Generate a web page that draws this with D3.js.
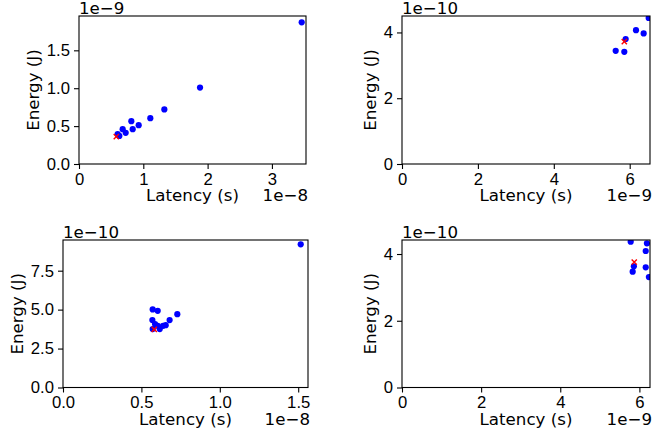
<!DOCTYPE html>
<html>
<head>
<meta charset="utf-8">
<script src="https://cdn.jsdelivr.net/npm/d3@7"></script>
<style>
body{margin:0;background:#fff;}
svg{display:block;font-family:"DejaVu Sans",sans-serif;}
</style>
</head>
<body>
<svg id="svg" width="667" height="434"></svg>
<script>
// panel 1 (top left)
var lat1=[3.463e-8,1.882e-8,1.327e-8,1.109e-8,0.928e-8,0.814e-8,0.835e-8,0.679e-8,0.726e-8,0.601e-8,0.627e-8];
var en1=[1.870e-9,1.008e-9,0.720e-9,0.605e-9,0.512e-9,0.565e-9,0.459e-9,0.459e-9,0.411e-9,0.393e-9,0.371e-9];
var lat1Red=[0.580e-8], en1Red=[0.362e-9];
// panel 2 (top right)
var lat2=[6.50e-9,6.166e-9,6.368e-9,5.894e-9,5.631e-9,5.858e-9];
var en2=[4.44e-10,4.07e-10,3.97e-10,3.80e-10,3.44e-10,3.41e-10];
var lat2Red=[5.858e-9], en2Red=[3.72e-10];
// panel 3 (bottom left)
var lat3=[1.516e-8,0.729e-8,0.572e-8,0.604e-8,0.570e-8,0.680e-8,0.587e-8,0.604e-8,0.638e-8,0.655e-8,0.572e-8,0.617e-8];
var en3=[9.19e-10,4.71e-10,5.01e-10,4.92e-10,4.33e-10,4.33e-10,4.07e-10,3.96e-10,3.96e-10,4.00e-10,3.75e-10,3.75e-10];
var lat3Red=[0.582e-8], en3Red=[3.73e-10];
// panel 4 (bottom right)
var lat4=[5.78e-9,6.19e-9,6.16e-9,5.86e-9,6.16e-9,5.83e-9,6.24e-9];
var en4=[4.37e-10,4.32e-10,4.09e-10,3.63e-10,3.60e-10,3.47e-10,3.31e-10];
var lat4Red=[5.87e-9], en4Red=[3.76e-10];

// ticks
var xTicks1=[0,1e-8,2e-8,3e-8], xLabels1=["0","1","2","3"];
var yTicks1=[0,0.5e-9,1e-9,1.5e-9], yLabels1=["0.0","0.5","1.0","1.5"];
var xTicks2=[0,2e-9,4e-9,6e-9], xLabels2=["0","2","4","6"];
var yTicks2=[0,2e-10,4e-10], yLabels2=["0","2","4"];
var xTicks3=[0,0.5e-8,1e-8,1.5e-8], xLabels3=["0.0","0.5","1.0","1.5"];
var yTicks3=[0,2.5e-10,5e-10,7.5e-10], yLabels3=["0.0","2.5","5.0","7.5"];
var xTicks4=[0,2e-9,4e-9,6e-9], xLabels4=["0","2","4","6"];
var yTicks4=[0,2e-10,4e-10], yLabels4=["0","2","4"];

var xOffset=["1e\u22128","1e\u22129","1e\u22128","1e\u22129"];
var yOffset=["1e\u22129","1e\u221210","1e\u221210","1e\u221210"];

var panels=[
  {lat:lat1,en:en1,latR:lat1Red,enR:en1Red,xd:[0,3.53e-8],yd:[0,1.953e-9],xt:xTicks1,xl:xLabels1,yt:yTicks1,yl:yLabels1,box:[79,16,306,164]},
  {lat:lat2,en:en2,latR:lat2Red,enR:en2Red,xd:[0,6.535e-9],yd:[0,4.50e-10],xt:xTicks2,xl:xLabels2,yt:yTicks2,yl:yLabels2,box:[402,16,650,164]},
  {lat:lat3,en:en3,latR:lat3Red,enR:en3Red,xd:[0,1.5625e-8],yd:[0,9.47e-10],xt:xTicks3,xl:xLabels3,yt:yTicks3,yl:yLabels3,box:[63,240,308,387.5]},
  {lat:lat4,en:en4,latR:lat4Red,enR:en4Red,xd:[0,6.268e-9],yd:[0,4.42e-10],xt:xTicks4,xl:xLabels4,yt:yTicks4,yl:yLabels4,box:[402,240,650,387.5]}
];

var svg=d3.select("#svg");
var fs="16.67px";

panels.forEach(function(p,k){
    var l=p.box[0],t=p.box[1],r=p.box[2],b=p.box[3];
    var x=d3.scaleLinear().domain(p.xd).range([l,r]);
    var y=d3.scaleLinear().domain(p.yd).range([b,t]);
    var g=svg.append("g");

    g.append("clipPath").attr("id","clip"+k)
        .append("rect").attr("x",l).attr("y",t).attr("width",r-l).attr("height",b-t);

    //points, red cross drawn last
    var pts=g.append("g").attr("clip-path","url(#clip"+k+")");
    pts.selectAll("circle")
        .data(d3.range(p.lat.length)).enter().append("circle")
            .attr("cx",i=>x(p.lat[i]))
            .attr("cy",i=>y(p.en[i]))
            .attr("r",3.1)
            .attr("fill","#0000ff")
    var s=2.6;
    pts.selectAll("path.red")
        .data(d3.range(p.latR.length)).enter().append("path")
            .attr("class","red")
            .attr("d",i=>{
                var cx=x(p.latR[i]),cy=y(p.enR[i]);
                return "M"+(cx-s)+","+(cy-s)+"L"+(cx+s)+","+(cy+s)+"M"+(cx-s)+","+(cy+s)+"L"+(cx+s)+","+(cy-s);
            })
            .attr("stroke","#ff0000")
            .attr("stroke-width",1.4)
            .attr("fill","none")

    //axes
    var xa=g.append("g").attr("transform","translate(0,"+b+")")
        .call(d3.axisBottom(x).tickValues(p.xt).tickFormat((d,i)=>p.xl[i]).tickSize(5).tickPadding(4));
    var ya=g.append("g").attr("transform","translate("+l+",0)")
        .call(d3.axisLeft(y).tickValues(p.yt).tickFormat((d,i)=>p.yl[i]).tickSize(5).tickPadding(4));
    [xa,ya].forEach(a=>{
        a.select(".domain").remove();
        a.selectAll("line").attr("stroke","#000").attr("stroke-width",1.1);
        a.selectAll("text").style("font-size",fs).attr("fill","#000");
    });

    g.append("rect").attr("x",l).attr("y",t).attr("width",r-l).attr("height",b-t)
        .attr("fill","none").attr("stroke","#000").attr("stroke-width",1.1);

    var maxW=0;
    ya.selectAll("text").each(function(){maxW=Math.max(maxW,this.getBBox().width);});

    g.append("text")
        .attr("transform","translate("+(l-9-maxW-8)+","+((t+b)/2)+") rotate(-90)")
        .attr("text-anchor","middle")
        .style("font-size",fs)
        .text("Energy (J)")
    g.append("text")
        .attr("x",(l+r)/2).attr("y",b+37)
        .attr("text-anchor","middle")
        .style("font-size",fs)
        .text("Latency (s)")
    g.append("text")
        .attr("x",r+2).attr("y",b+37)
        .attr("text-anchor","end")
        .style("font-size",fs)
        .text(xOffset[k])
    g.append("text")
        .attr("x",l).attr("y",t-2)
        .style("font-size",fs)
        .text(yOffset[k])
});
</script>
</body>
</html>
